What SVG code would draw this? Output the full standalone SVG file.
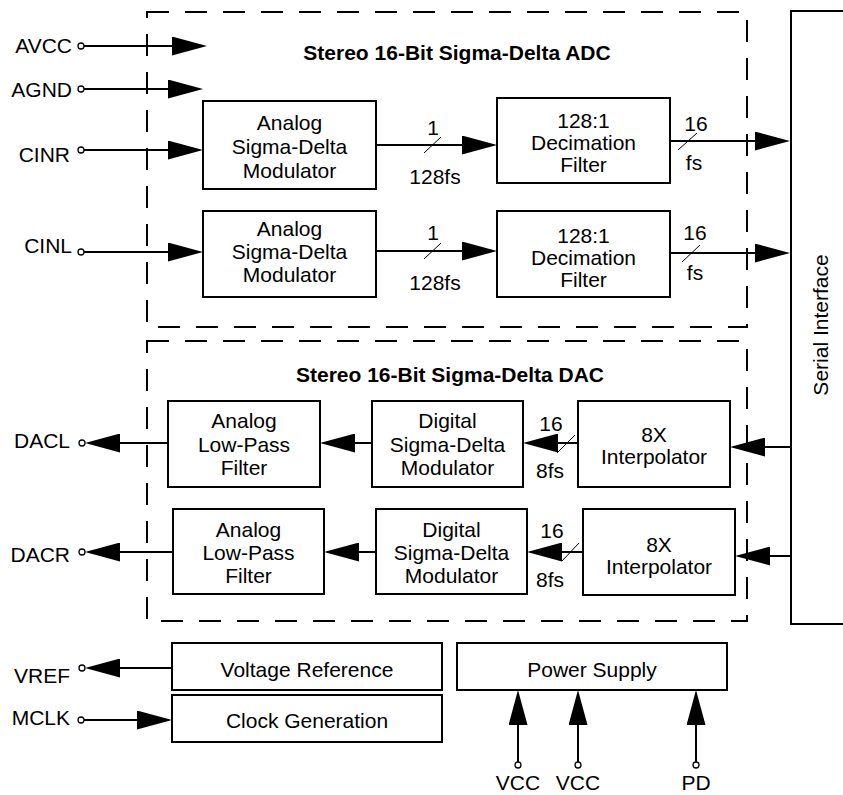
<svg xmlns="http://www.w3.org/2000/svg" width="843" height="795" viewBox="0 0 843 795">
<style>
text{font-family:"Liberation Sans",Arial,sans-serif;font-size:21px;fill:#000}
.c{text-anchor:middle}
.e{text-anchor:end}
.t{font-weight:bold;text-anchor:middle}
.box{fill:#fff;stroke:#000;stroke-width:2}
.dash{fill:none;stroke:#000;stroke-width:2;stroke-dasharray:22 16}
.w{fill:none;stroke:#000;stroke-width:2}
.s{fill:none;stroke:#000;stroke-width:1}
.pin{fill:#fff;stroke:#000;stroke-width:1.3}
</style>
<defs>
<marker id="ah" markerUnits="userSpaceOnUse" markerWidth="35" markerHeight="19" viewBox="0 0 35 19" refX="29" refY="9.5" orient="auto"><path d="M0,0 L35,9.5 L0,19 z" fill="#000"/></marker>
</defs>
<rect width="843" height="795" fill="#fff"/>

<g id="adc-group"><rect class="dash" x="147" y="12" width="600" height="315"/><text class="t" x="457" y="60">Stereo 16-Bit Sigma-Delta ADC</text></g>
<g id="dac-group"><rect class="dash" x="147" y="341" width="600" height="280"/><text class="t" x="450" y="382">Stereo 16-Bit Sigma-Delta DAC</text></g>

<g id="serial-interface"><path class="w" d="M843,11 H791 V624 H843"/><text class="c" transform="translate(828,325) rotate(-90)">Serial Interface</text></g>

<g id="mod-r"><rect class="box" x="203" y="101" width="173" height="88"/><text class="c" x="289.5" y="130">Analog</text><text class="c" x="289.5" y="154">Sigma-Delta</text><text class="c" x="289.5" y="178">Modulator</text></g>
<g id="dec-r"><rect class="box" x="497" y="98" width="173" height="85"/><text class="c" x="583.5" y="128">128:1</text><text class="c" x="583.5" y="150">Decimation</text><text class="c" x="583.5" y="172">Filter</text></g>
<g id="mod-l"><rect class="box" x="203" y="211" width="173" height="86"/><text class="c" x="289.5" y="236">Analog</text><text class="c" x="289.5" y="259">Sigma-Delta</text><text class="c" x="289.5" y="282">Modulator</text></g>
<g id="dec-l"><rect class="box" x="497" y="211" width="173" height="86"/><text class="c" x="583.5" y="243">128:1</text><text class="c" x="583.5" y="265">Decimation</text><text class="c" x="583.5" y="287">Filter</text></g>

<g id="lpf-l"><rect class="box" x="168" y="401" width="152" height="86"/><text class="c" x="244" y="428">Analog</text><text class="c" x="244" y="452">Low-Pass</text><text class="c" x="244" y="475">Filter</text></g>
<g id="dsm-l"><rect class="box" x="372" y="401" width="151" height="86"/><text class="c" x="447.5" y="428">Digital</text><text class="c" x="447.5" y="452">Sigma-Delta</text><text class="c" x="447.5" y="475">Modulator</text></g>
<g id="interp-l"><rect class="box" x="578" y="401" width="152" height="86"/><text class="c" x="654" y="442">8X</text><text class="c" x="654" y="464">Interpolator</text></g>

<g id="lpf-r"><rect class="box" x="173" y="509" width="151" height="85"/><text class="c" x="248.5" y="537">Analog</text><text class="c" x="248.5" y="560">Low-Pass</text><text class="c" x="248.5" y="583">Filter</text></g>
<g id="dsm-r"><rect class="box" x="376" y="509" width="151" height="85"/><text class="c" x="451.5" y="537">Digital</text><text class="c" x="451.5" y="560">Sigma-Delta</text><text class="c" x="451.5" y="583">Modulator</text></g>
<g id="interp-r"><rect class="box" x="583" y="509" width="152" height="86"/><text class="c" x="659" y="552">8X</text><text class="c" x="659" y="574">Interpolator</text></g>

<g id="vref-box"><rect class="box" x="172" y="643" width="270" height="47"/><text class="c" x="307" y="677">Voltage Reference</text></g>
<g id="clock-box"><rect class="box" x="172" y="695" width="270" height="47"/><text class="c" x="307" y="728">Clock Generation</text></g>
<g id="power-box"><rect class="box" x="457" y="643" width="270" height="47"/><text class="c" x="592" y="677">Power Supply</text></g>

<g id="pins">
<text class="e" x="72" y="53">AVCC</text>
<text class="e" x="72" y="97">AGND</text>
<text class="e" x="70" y="162">CINR</text>
<text class="e" x="72" y="253">CINL</text>
<text class="e" x="70" y="448">DACL</text>
<text class="e" x="70" y="562">DACR</text>
<text class="e" x="70" y="683">VREF</text>
<text class="e" x="70" y="725">MCLK</text>
<text class="c" x="518" y="790">VCC</text>
<text class="c" x="578" y="790">VCC</text>
<text class="c" x="696" y="790">PD</text>
</g>

<g id="connectors">
<path class="w" marker-end="url(#ah)" d="M84,46 H201"/>
<path class="w" marker-end="url(#ah)" d="M84,89 H197"/>
<path class="w" marker-end="url(#ah)" d="M84,150 H197"/>
<path class="w" marker-end="url(#ah)" d="M84,252 H197"/>
<path class="w" marker-end="url(#ah)" d="M376,145 H491"/>
<path class="w" marker-end="url(#ah)" d="M670,141 H784"/>
<path class="w" marker-end="url(#ah)" d="M376,251 H491"/>
<path class="w" marker-end="url(#ah)" d="M670,253 H784"/>
<path class="w" marker-end="url(#ah)" d="M791,447 H736"/>
<path class="w" marker-end="url(#ah)" d="M578,443 H529"/>
<path class="w" marker-end="url(#ah)" d="M372,443 H326"/>
<path class="w" marker-end="url(#ah)" d="M168,443 H91"/>
<path class="w" marker-end="url(#ah)" d="M791,556 H741"/>
<path class="w" marker-end="url(#ah)" d="M583,552 H533"/>
<path class="w" marker-end="url(#ah)" d="M376,552 H330"/>
<path class="w" marker-end="url(#ah)" d="M173,552 H91"/>
<path class="w" marker-end="url(#ah)" d="M172,668 H91"/>
<path class="w" marker-end="url(#ah)" d="M84,720 H166"/>
<path class="w" marker-end="url(#ah)" d="M518,762 V696"/>
<path class="w" marker-end="url(#ah)" d="M578,762 V696"/>
<path class="w" marker-end="url(#ah)" d="M696,762 V696"/>
<path class="s" d="M424,153 L441,137 M678,150 L697,133 M424,259 L441,243 M682,262 L700,245 M557,453 L575,435 M562,561 L579,543"/>
<circle class="pin" cx="81" cy="46" r="3"/>
<circle class="pin" cx="81" cy="89" r="3"/>
<circle class="pin" cx="81" cy="150" r="3"/>
<circle class="pin" cx="81" cy="252" r="3"/>
<circle class="pin" cx="82" cy="443" r="3"/>
<circle class="pin" cx="82" cy="552" r="3"/>
<circle class="pin" cx="82" cy="668" r="3"/>
<circle class="pin" cx="81" cy="720" r="3"/>
<circle class="pin" cx="518" cy="765" r="3"/>
<circle class="pin" cx="578" cy="765" r="3"/>
<circle class="pin" cx="696" cy="765" r="3"/>
</g>

<g id="bus-labels">
<text class="c" x="433" y="135">1</text>
<text class="c" x="435" y="184">128fs</text>
<text class="c" x="696" y="131">16</text>
<text class="c" x="694" y="170">fs</text>
<text class="c" x="433" y="240">1</text>
<text class="c" x="435" y="290">128fs</text>
<text class="c" x="695" y="240">16</text>
<text class="c" x="695" y="280">fs</text>
<text class="c" x="551" y="431">16</text>
<text class="c" x="550" y="478">8fs</text>
<text class="c" x="552" y="538">16</text>
<text class="c" x="550" y="587">8fs</text>
</g>
</svg>
